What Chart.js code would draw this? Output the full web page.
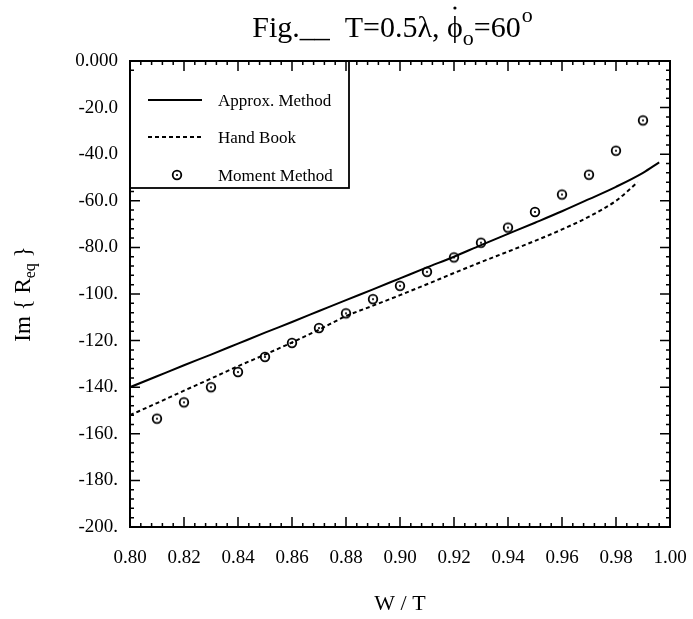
<!DOCTYPE html>
<html><head><meta charset="utf-8">
<script src="https://cdn.jsdelivr.net/npm/chart.js@4.4.0/dist/chart.umd.min.js"></script>
<style>html,body{margin:0;padding:0;background:#fff;}canvas{display:block;}</style>
</head><body>
<canvas id="c" width="693" height="619"></canvas>
<script>
// ---------- data ----------
const xTickLabels = ['0.80','0.82','0.84','0.86','0.88','0.90','0.92','0.94','0.96','0.98','1.00'];
const yTickLabels = ['0.000','-20.0','-40.0','-60.0','-80.0','-100.','-120.','-140.','-160.','-180.','-200.'];
const seriesNames = ['Approx. Method','Hand Book','Moment Method'];

const approxX = [0.80,0.81,0.82,0.83,0.84,0.85,0.86,0.87,0.88,0.89,0.90,0.91,0.92,0.93,0.94,0.95,0.96,0.97,0.98,0.99,0.996];
const approxY = [-140,-135.3,-130.6,-126,-121.3,-116.6,-112,-107.3,-102.6,-98,-93.3,-88.6,-84,-79,-74.2,-69.4,-64.5,-59.3,-54,-48,-43.5];

const handX = [0.80,0.81,0.82,0.83,0.84,0.85,0.86,0.87,0.88,0.89,0.90,0.91,0.92,0.93,0.94,0.95,0.96,0.97,0.98,0.988];
const handY = [-152,-146.8,-141.5,-136.3,-131,-126,-120.8,-115.3,-109.5,-105,-100.5,-95.8,-91,-86.3,-81.8,-77.2,-72.3,-66.8,-60,-52];

const momentX = [0.81,0.82,0.83,0.84,0.85,0.86,0.87,0.88,0.89,0.90,0.91,0.92,0.93,0.94,0.95,0.96,0.97,0.98,0.99];
const momentY = [-153.5,-146.5,-140,-133.5,-127,-121,-114.6,-108.3,-102.2,-96.5,-90.5,-84.3,-78,-71.5,-64.8,-57.3,-48.8,-38.5,-25.5];

const titleMain = 'Fig.__  T=0.5\u03bb, \u03d5';
const titleSub = 'o';
const titleEq = '=60';
const titleSup = 'o';
const yTitleMain = 'Im { R';
const yTitleSub = 'eq';
const yTitleEnd = ' }';
const xTitle = 'W / T';

// ---------- helpers ----------
const xTickVals = xTickLabels.map(parseFloat);
const yTickVals = yTickLabels.map(parseFloat);
const pts = (xs, ys) => xs.map((x, i) => ({x: x, y: ys[i]}));
const SERIF = '"Liberation Serif", "DejaVu Serif", serif';

// circle-with-dot marker
const marker = document.createElement('canvas');
marker.width = 14; marker.height = 14;
(function(){
  const m = marker.getContext('2d');
  m.fillStyle = '#fff';
  m.beginPath(); m.arc(7, 7, 4.3, 0, Math.PI * 2); m.fill();
  m.strokeStyle = '#000'; m.lineWidth = 1.8;
  m.beginPath(); m.arc(7, 7, 4.3, 0, Math.PI * 2); m.stroke();
  m.fillStyle = '#000';
  m.beginPath(); m.arc(7, 7, 1.1, 0, Math.PI * 2); m.fill();
})();

// frame + inward ticks
const framePlugin = {
  id: 'frame',
  afterDatasetsDraw(chart) {
    const {ctx, chartArea: a, scales: {x, y}} = chart;
    ctx.save();
    ctx.strokeStyle = '#000';
    ctx.lineWidth = 1.5;
    const sub = 5;
    const xs = (xTickVals[1] - xTickVals[0]) / sub;
    const nX = Math.round((xTickVals[xTickVals.length - 1] - xTickVals[0]) / xs);
    ctx.beginPath();
    for (let i = 0; i <= nX; i++) {
      const px = x.getPixelForValue(xTickVals[0] + i * xs);
      const len = i % sub === 0 ? 10 : 4;
      ctx.moveTo(px, a.bottom); ctx.lineTo(px, a.bottom - len);
      ctx.moveTo(px, a.top); ctx.lineTo(px, a.top + len);
    }
    const ys = (yTickVals[0] - yTickVals[1]) / sub;
    const nY = Math.round((yTickVals[0] - yTickVals[yTickVals.length - 1]) / ys);
    for (let i = 0; i <= nY; i++) {
      const py = y.getPixelForValue(yTickVals[0] - i * ys);
      const len = i % sub === 0 ? 10 : 4;
      ctx.moveTo(a.left, py); ctx.lineTo(a.left + len, py);
      ctx.moveTo(a.right, py); ctx.lineTo(a.right - len, py);
    }
    ctx.stroke();
    ctx.lineWidth = 2;
    ctx.strokeRect(a.left, a.top, a.right - a.left, a.bottom - a.top);
    ctx.restore();
  },
  afterDraw(chart) {
    const {ctx, chartArea: a} = chart;
    ctx.save();
    // ---- legend box ----
    const bx = a.left, by = a.top, bw = 219, bh = 127;
    ctx.fillStyle = '#fff';
    ctx.fillRect(bx + 1, by + 11, bw - 1, bh - 11);
    ctx.strokeStyle = '#000'; ctx.lineWidth = 1.8;
    ctx.strokeRect(bx, by, bw, bh);
    ctx.font = '17px ' + SERIF;
    ctx.textBaseline = 'middle';
    ctx.fillStyle = '#000';
    const rows = [39, 76, 114];
    chart.data.datasets.forEach((ds, i) => {
      const ry = by + rows[i];
      if (i < 2) {
        ctx.save();
        ctx.lineWidth = ds.borderWidth;
        ctx.setLineDash(ds.borderDash || []);
        ctx.beginPath(); ctx.moveTo(bx + 18, ry); ctx.lineTo(bx + 72, ry); ctx.stroke();
        ctx.restore();
      } else {
        ctx.drawImage(marker, bx + 47 - 7, ry - 7);
      }
      ctx.fillText(ds.label, bx + 88, ry + 2);
    });
    // ---- title ----
    const cx = 392;
    const base = 37;
    const fMain = '30px ' + SERIF, fSmall = '22px ' + SERIF;
    ctx.textBaseline = 'alphabetic';
    ctx.font = fMain; const w1 = ctx.measureText(titleMain).width; const w3 = ctx.measureText(titleEq).width;
    const wPhi = ctx.measureText('\u03d5').width;
    ctx.font = fSmall; const w2 = ctx.measureText(titleSub).width; const w4 = ctx.measureText(titleSup).width;
    let tx = cx - (w1 + w2 + w3 + w4) / 2;
    ctx.font = fMain; ctx.fillText(titleMain, tx, base);
    ctx.beginPath(); ctx.arc(tx + w1 - wPhi / 2, base - 29, 1.6, 0, Math.PI * 2); ctx.fill();
    tx += w1;
    ctx.font = fSmall; ctx.fillText(titleSub, tx, base + 8); tx += w2;
    ctx.font = fMain; ctx.fillText(titleEq, tx, base); tx += w3;
    ctx.font = fSmall; ctx.fillText(titleSup, tx + 1, base - 15);
    // ---- y title ----
    ctx.save();
    ctx.translate(30, (a.top + a.bottom) / 2);
    ctx.rotate(-Math.PI / 2);
    const fY = '23px ' + SERIF, fYs = '16px ' + SERIF;
    ctx.font = fY; const y1 = ctx.measureText(yTitleMain).width; const y3 = ctx.measureText(yTitleEnd).width;
    ctx.font = fYs; const y2 = ctx.measureText(yTitleSub).width;
    let ty = -(y1 + y2 + y3) / 2;
    ctx.font = fY; ctx.fillText(yTitleMain, ty, 0); ty += y1;
    ctx.font = fYs; ctx.fillText(yTitleSub, ty, 5); ty += y2;
    ctx.font = fY; ctx.fillText(yTitleEnd, ty, 0);
    ctx.restore();
    ctx.restore();
  }
};

new Chart(document.getElementById('c'), {
  type: 'scatter',
  data: {
    datasets: [
      {label: seriesNames[0], data: pts(approxX, approxY), showLine: true, borderColor: '#000', borderWidth: 2,
       pointRadius: 0, cubicInterpolationMode: 'monotone', fill: false},
      {label: seriesNames[1], data: pts(handX, handY), showLine: true, borderColor: '#000', borderWidth: 2,
       borderDash: [4, 3], pointRadius: 0, cubicInterpolationMode: 'monotone', fill: false},
      {label: seriesNames[2], data: pts(momentX, momentY), showLine: false, pointStyle: marker,
       pointRadius: 5, borderColor: '#000', backgroundColor: '#fff'}
    ]
  },
  options: {
    responsive: false,
    animation: false,
    devicePixelRatio: 1,
    layout: {padding: {top: 61, right: 23, left: 0, bottom: 0}},
    plugins: {legend: {display: false}, tooltip: {enabled: false}, title: {display: false}},
    scales: {
      x: {
        type: 'linear', min: xTickVals[0], max: xTickVals[xTickVals.length - 1],
        afterBuildTicks: s => { s.ticks = xTickVals.map(v => ({value: v})); },
        afterFit: s => { s.height = 92; s.paddingLeft = 0; s.paddingRight = 0; },
        grid: {display: false, drawTicks: false},
        border: {display: false},
        ticks: {color: '#000', font: {family: SERIF, size: 19}, padding: 20, maxRotation: 0,
                callback: v => xTickLabels[xTickVals.findIndex(t => Math.abs(t - v) < 1e-6)]},
        title: {display: true, text: xTitle, color: '#000', font: {family: SERIF, size: 22}, padding: {top: 0, bottom: 2}}
      },
      y: {
        type: 'linear', min: yTickVals[yTickVals.length - 1], max: yTickVals[0],
        afterBuildTicks: s => { s.ticks = yTickVals.slice().reverse().map(v => ({value: v})); },
        afterFit: s => { s.width = 130; s.paddingTop = 0; s.paddingBottom = 0; },
        grid: {display: false, drawTicks: false},
        border: {display: false},
        ticks: {color: '#000', font: {family: SERIF, size: 19}, padding: 12,
                callback: v => yTickLabels[yTickVals.findIndex(t => Math.abs(t - v) < 1e-6)]}
      }
    }
  },
  plugins: [framePlugin]
});
</script>
</body></html>
